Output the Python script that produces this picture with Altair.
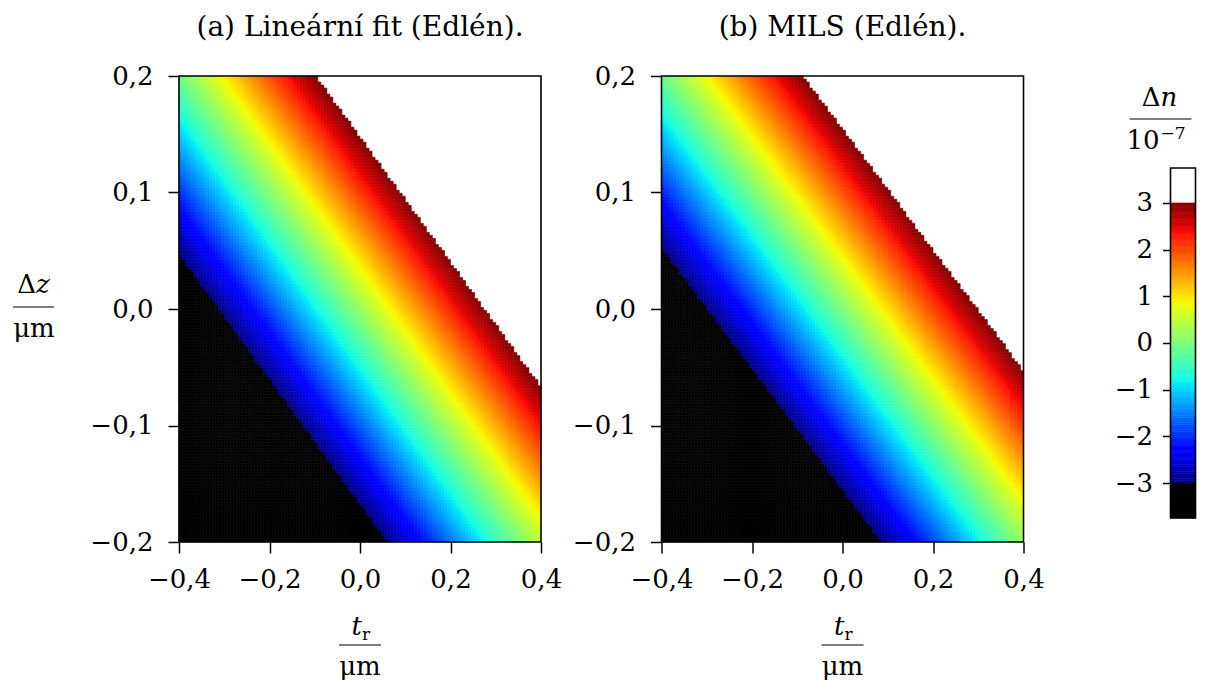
import altair as alt
import numpy as np
import pandas as pd

FONT = "DejaVu Serif"
FS = 26
FS_TITLE = 28
FS_SMALL = 17

# ---- data ----
PANEL_TITLES = ["(a) Lineární fit (Edlén).", "(b) MILS (Edlén)."]
# plane model of Δn [1e-7] over the panel: Δn = GRAD_T*t + GRAD_Z*z + OFFSET
GRAD_T = [10.23, 10.08]
GRAD_Z = [19.05, 19.39]
OFFSET = [0.19, 0.005]
T_RANGE = [-0.4, 0.4]
Z_RANGE = [-0.2, 0.2]
T_TICKS = [-0.4, -0.2, 0.0, 0.2, 0.4]
Z_TICKS = [-0.2, -0.1, 0.0, 0.1, 0.2]
N_T, N_Z = 120, 155
CB_TICKS = [-3, -2, -1, 0, 1, 2, 3]
CB_LIMITS = [-3.75, 3.75]
CMAP_LIMITS = [-3.0, 3.0]
CB_AXIS_RANGE = [-4.264, 5.721]

W, H = 362, 466
CB_BAR_X = 26.5        # bar starts this many px into the colour-bar group
CB_BAR_W = 25
CB_GROUP_W = CB_BAR_X + CB_BAR_W

# ---- jet colormap ----
JET_POS = [0, 0.11, 0.125, 0.34, 0.35, 0.375, 0.64, 0.65, 0.66, 0.89, 0.91, 1.0]
jr = np.interp(JET_POS, [0, 0.35, 0.66, 0.89, 1], [0, 0, 1, 1, 0.5])
jg = np.interp(JET_POS, [0, 0.125, 0.375, 0.64, 0.91, 1], [0, 0, 1, 1, 0, 0])
jb = np.interp(JET_POS, [0, 0.11, 0.34, 0.65, 1], [0.5, 1, 1, 0, 0])
jet_hex = ["#%02x%02x%02x" % (int(round(r * 255)), int(round(g * 255)), int(round(b * 255)))
           for r, g, b in zip(jr, jg, jb)]
c_dom = [-1000.0, CMAP_LIMITS[0] - 1e-6] + [
    CMAP_LIMITS[0] + (CMAP_LIMITS[1] - CMAP_LIMITS[0]) * p for p in JET_POS]
c_rng = ["#000000", "#000000"] + jet_hex


def cscale():
    return alt.Scale(type="linear", domain=c_dom, range=c_rng, interpolate="rgb", clamp=True)


ONE = pd.DataFrame({"o": [0]})


def txt(s, x, y, size=FS, align="center", style="normal"):
    return alt.Chart(ONE).mark_text(
        text=s, font=FONT, fontSize=size, fontStyle=style, align=align,
        baseline="alphabetic", color="black"
    ).encode(x=alt.value(x), y=alt.value(y))


def hline(x1, x2, y):
    return alt.Chart(ONE).mark_rule(color="black", strokeWidth=1.2).encode(
        x=alt.value(x1), x2=alt.value(x2), y=alt.value(y))


LABEL_EXPR = "replace(format(datum.value, '.1f'), '.', ',')"


def panel(idx, with_ylabel):
    dt = (T_RANGE[1] - T_RANGE[0]) / N_T
    dz = (Z_RANGE[1] - Z_RANGE[0]) / N_Z
    xs = alt.Scale(domain=T_RANGE, nice=False, zero=False)
    ys = alt.Scale(domain=Z_RANGE, nice=False, zero=False)
    xax = alt.Axis(values=T_TICKS, labelExpr=LABEL_EXPR, title=None, domain=False, grid=False,
                   tickSize=11, labelPadding=13, labelFlush=False, labelOverlap=False)
    yax = alt.Axis(values=Z_TICKS, labelExpr=LABEL_EXPR, title=None, domain=False, grid=False,
                   tickSize=11, labelPadding=15, labelFlush=False, labelOverlap=False)
    heat = alt.Chart(alt.sequence(0, N_T * N_Z, as_="k")).transform_calculate(
        i=f"datum.k % {N_T}",
        j=f"floor(datum.k / {N_T})",
        t0=f"{T_RANGE[0]} + datum.i * {dt}",
        t1=f"datum.t0 + {dt}",
        z0=f"{Z_RANGE[0]} + datum.j * {dz}",
        z1=f"datum.z0 + {dz}",
        v=f"{GRAD_T[idx]} * (datum.t0 + {dt / 2}) + {GRAD_Z[idx]} * (datum.z0 + {dz / 2}) + {OFFSET[idx]}",
    ).transform_filter("datum.v <= 3").mark_rect(strokeWidth=0.6).encode(
        x=alt.X("t0:Q", scale=xs, axis=xax),
        x2="t1:Q",
        y=alt.Y("z0:Q", scale=ys, axis=yax),
        y2="z1:Q",
        color=alt.Color("v:Q", scale=cscale(), legend=None),
        stroke=alt.Stroke("v:Q", scale=cscale(), legend=None),
    )
    frame = alt.Chart(ONE).mark_rect(filled=False, stroke="black", strokeWidth=1.6).encode(
        x=alt.XDatum(T_RANGE[0], scale=xs, axis=xax),
        x2=alt.X2Datum(T_RANGE[1]),
        y=alt.YDatum(Z_RANGE[0], scale=ys, axis=yax),
        y2=alt.Y2Datum(Z_RANGE[1]),
    )
    cx = W / 2
    layers = [
        heat, frame,
        txt(PANEL_TITLES[idx], cx, -40, size=FS_TITLE),
        txt("t", cx + 2, 559, style="italic", align="right"),
        txt("r", cx + 2, 564, size=FS_SMALL, align="left"),
        hline(cx - 21, cx + 21, 569),
        txt("μm", cx, 599),
    ]
    if with_ylabel:
        layers += [
            txt("Δ", -143, 217, align="right"),
            txt("z", -143, 217, style="italic", align="left"),
            hline(-166, -125, 231),
            txt("μm", -145, 261),
        ]
    return alt.layer(*layers).properties(width=W, height=H)


def colorbar():
    ys = alt.Scale(domain=CB_AXIS_RANGE, nice=False, zero=False)
    # bar occupies datum 0..1 at the right end of the group
    xs = alt.Scale(domain=[-CB_BAR_X / CB_BAR_W, 1], nice=False, zero=False)
    edges = np.linspace(CMAP_LIMITS[0], CMAP_LIMITS[1], 121)
    lo = np.concatenate([[CB_LIMITS[0]], edges[:-1]])
    hi = np.concatenate([[CMAP_LIMITS[0]], edges[1:]])
    cbdf = pd.DataFrame({"lo": lo, "hi": hi, "mid": (lo + hi) / 2})
    yax = alt.Axis(values=CB_TICKS, format="d", title=None, domain=False, grid=False,
                   tickSize=8, labelPadding=10, labelFlush=False, labelOverlap=False,
                   offset=-CB_BAR_X)
    grad = alt.Chart(cbdf).mark_rect(strokeWidth=0.6).encode(
        x=alt.XDatum(0, scale=xs, axis=None),
        x2=alt.X2Datum(1),
        y=alt.Y("lo:Q", scale=ys, axis=yax),
        y2="hi:Q",
        color=alt.Color("mid:Q", scale=cscale(), legend=None),
        stroke=alt.Stroke("mid:Q", scale=cscale(), legend=None),
    )
    outline = alt.Chart(ONE).mark_rect(filled=False, stroke="black", strokeWidth=1.6).encode(
        x=alt.XDatum(0, scale=xs, axis=None),
        x2=alt.X2Datum(1),
        y=alt.YDatum(CB_LIMITS[0], scale=ys, axis=yax),
        y2=alt.Y2Datum(CB_LIMITS[1]),
    )
    b = CB_BAR_X
    layers = [
        grad, outline,
        txt("Δ", b - 10, 30, align="right"),
        txt("n", b - 10, 30, style="italic", align="left"),
        hline(b - 41, b + 21, 43),
        txt("10", b - 11, 73, align="right"),
        txt("−7", b - 10, 63, size=FS_SMALL, align="left"),
    ]
    return alt.layer(*layers).properties(width=CB_GROUP_W, height=H)


chart = alt.hconcat(panel(0, True), panel(1, False), colorbar(),
                    spacing=120.5, bounds="flush").properties(
    padding={"left": 3, "top": 5, "right": 0, "bottom": 0}
).configure_view(stroke="transparent").configure_axis(
    labelFont=FONT, labelFontSize=FS, labelColor="black", tickColor="black", tickWidth=1.5
)

chart.save("out.html", embed_options={"renderer": "svg", "actions": False})
